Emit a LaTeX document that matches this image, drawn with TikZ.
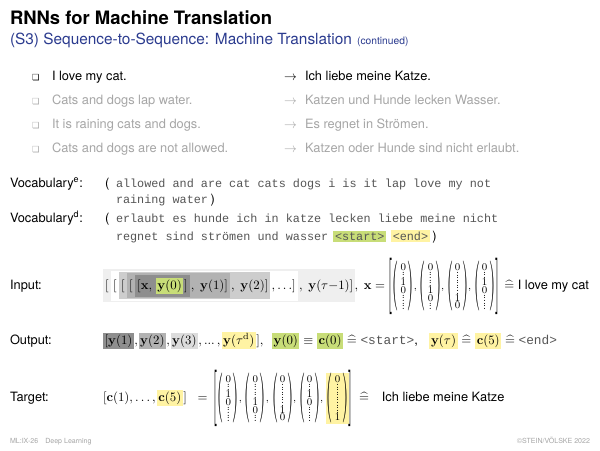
\documentclass[tikz,border=0pt]{standalone}
\usepackage[no-math]{fontspec}
\setmainfont{TeX Gyre Heros}
\setmonofont{Liberation Mono}
\newfontfamily\dingfont{DejaVu Sans}
\usepackage{xcolor}
\usepackage{graphicx}
\usetikzlibrary{positioning, backgrounds, fit}

\definecolor{subblue}{HTML}{2B3B8F}
\definecolor{fadegray}{HTML}{A6A6A6}
\definecolor{ttgray}{HTML}{555555}
\definecolor{hlgreen}{HTML}{C8DD78}
\definecolor{hlyellow}{HTML}{FFF3A3}
\definecolor{lvA}{HTML}{EFEFEF}
\definecolor{lvC}{HTML}{CDCDCD}
\definecolor{lvD}{HTML}{B2B2B2}
\definecolor{lvE}{HTML}{8E8E8E}
\definecolor{lvF}{HTML}{DCDCDC}

% one-hot vectors
\newcommand{\vd}{\lower0.4pt\vbox{\baselineskip=2pt\lineskiplimit=-5pt\hbox{$.$}\hbox{$.$}\hbox{$.$}}}
\newcommand{\vlp}{\mathopen{\vcenter{\hbox{\normalsize\scalebox{1.2}[3.9]{$($}}}}}
\newcommand{\vrp}{\mathclose{\vcenter{\hbox{\normalsize\scalebox{1.2}[3.9]{$)$}}}}}
\newcommand{\vlb}{\mathopen{\vcenter{\hbox{\normalsize\scalebox{1.1}[4.4]{$[$}}}}}
\newcommand{\vrb}{\mathclose{\vcenter{\hbox{\normalsize\scalebox{1.1}[4.4]{$]$}}}}}
\newcommand{\ohv}[1]{\vlp\,\vcenter{\baselineskip=6pt\lineskiplimit=-10pt\halign{\hfil$##$\hfil\cr#1\crcr}}\,\vrp}
\newcommand{\corr}{\mathrel{\widehat{=}}}

\begin{document}
\begin{tikzpicture}[
	  x=0.78pt, y=-0.78pt,
	  font=\fontsize{10}{12}\selectfont,
	  tok/.style={inner sep=0pt, outer sep=0pt},
	  lbl/.style={tok, anchor=base west},
	  hlg/.style={tok, fill=hlgreen, inner sep=1.2pt},
	  hly/.style={tok, fill=hlyellow, inner sep=1.2pt},
	  lvl/.style={inner sep=0pt, outer sep=0pt},
	  faded/.style={text=fadegray},
	  bul/.style={lbl, font=\dingfont\fontsize{6.5}{7}\selectfont},
	  vocab/.style={lbl, text=ttgray, font=\ttfamily\fontsize{9.2}{11}\selectfont},
	  vec/.style={tok, font=\footnotesize},
	  foot/.style={tok, text=fadegray, font=\fontsize{5.5}{6}\selectfont}
	]

	\begin{scope}[on background layer]
	\fill[white] (0,0) rectangle (600,450);
	\end{scope}
	\useasboundingbox (0,0) rectangle (600,450);

	% title
	\node[lbl, font=\bfseries\fontsize{14.4}{16}\selectfont] (title) at (10,24.5) {RNNs for Machine Translation};
	\node[lbl, text=subblue, font=\fontsize{12}{14}\selectfont] (subtitle) at (10,44.5) {(S3) Sequence-to-Sequence: Machine Translation};
	\node[tok, base right=4pt of subtitle, text=subblue, font=\fontsize{8}{9}\selectfont] (cont) {(continued)};

	% example sentences
	\node[bul] (bull1) at (32,80) {❏};
	\node[lbl] (en1) at (52,80) {I love my cat.};
	\node[lbl] (ar1) at (284,80) {$\rightarrow$};
	\node[lbl] (de1) at (305,80) {Ich liebe meine Katze.};

	\node[bul, faded] (bull2) at (32,104) {❏};
	\node[lbl, faded] (en2) at (52,104) {Cats and dogs lap water.};
	\node[lbl, faded] (ar2) at (284,104) {$\rightarrow$};
	\node[lbl, faded] (de2) at (305,104) {Katzen und Hunde lecken Wasser.};

	\node[bul, faded] (bull3) at (32,128) {❏};
	\node[lbl, faded] (en3) at (52,128) {It is raining cats and dogs.};
	\node[lbl, faded] (ar3) at (284,128) {$\rightarrow$};
	\node[lbl, faded] (de3) at (305,128) {Es regnet in Strömen.};

	\node[bul, faded] (bull4) at (32,152) {❏};
	\node[lbl, faded] (en4) at (52,152) {Cats and dogs are not allowed.};
	\node[lbl, faded] (ar4) at (284,152) {$\rightarrow$};
	\node[lbl, faded] (de4) at (305,152) {Katzen oder Hunde sind nicht erlaubt.};

	% vocabularies
	\node[lbl] (vocE) at (10,187) {Vocabulary\textsuperscript{e}:};
	\node[lbl] (vocEo) at (105,187) {(};
	\node[vocab] (vocE1) at (116,187) {allowed and are cat cats dogs i is it lap love my not};
	\node[vocab] (vocE2) at (116,203) {raining water};
	\node[tok, base right=2pt of vocE2] (vocEc) {)};

	\node[lbl] (vocD) at (10,222) {Vocabulary\textsuperscript{d}:};
	\node[lbl] (vocDo) at (105,222) {(};
	\node[vocab] (vocD1) at (116,222) {erlaubt es hunde ich in katze lecken liebe meine nicht};
	\node[vocab] (vocD2) at (116,240) {regnet sind strömen und wasser};
	\node[vocab, hlg, anchor=base west, base right=4pt of vocD2] (vStart) {<start>};
	\node[vocab, hly, anchor=base west, base right=4pt of vStart] (vEnd) {<end>};
	\node[tok, base right=2pt of vEnd] (vocDc) {)};

	% input
	\node[lbl] (inp) at (10,289) {Input:};
	\node[lbl] (inB1) at (105,289) {$[$};
	\node[tok, base right=3.5pt of inB1] (inB2) {$[$};
	\node[tok, base right=3.5pt of inB2] (inB3) {$[$};
	\node[tok, base right=3.5pt of inB3] (inB4) {$[$};
	\node[tok, base right=3.5pt of inB4] (inB5) {$[\mathbf{x},$};
	\node[hlg, base right=3pt of inB5] (inY0) {$\mathbf{y}(0)$};
	\node[tok, base right=0.5pt of inY0] (inC5) {$]$};
	\node[tok, base right=2.5pt of inC5] (inC4) {$,\ \mathbf{y}(1)]$};
	\node[tok, base right=2.5pt of inC4] (inC3) {$,\ \mathbf{y}(2)]$};
	\node[tok, base right=2.5pt of inC3] (inC2) {$,\ldots]$};
	\node[tok, base right=2.5pt of inC2] (inC1) {$,\ \mathbf{y}(\tau{-}1)]$};
	\node[tok, base right=1pt of inC1] (inX) {$,\ \mathbf{x} =$};
	\node[vec, base right=3pt of inX] (inMat) {$\vlb\ohv{0\cr\vd\cr1\cr0\cr\vd\cr\vd}{,}\;\ohv{0\cr\vd\cr\vd\cr1\cr0\cr\vd}{,}\;\ohv{0\cr\vd\cr\vd\cr\vd\cr1\cr0}{,}\;\ohv{0\cr\vd\cr1\cr0\cr\vd\cr\vd}\vrb$};
	\node[tok, base right=4pt of inMat] (inTxt) {$\corr$\ I love my cat};

	\node[lvl, fit=(inB5)(inY0)(inC5), inner xsep=1.5pt, inner ysep=2.5pt] (lv5) {};
	\node[lvl, fit=(inB4)(lv5)(inC4), inner xsep=1.5pt, inner ysep=1.2pt] (lv4) {};
	\node[lvl, fit=(inB3)(lv4)(inC3), inner xsep=1.5pt, inner ysep=0.6pt] (lv3) {};
	\node[lvl, fit=(inB2)(lv3)(inC2), inner xsep=1.5pt, inner ysep=1.2pt] (lv2) {};
	\node[lvl, fit=(inB1)(lv2)(inC1), inner xsep=1.5pt, inner ysep=1.2pt] (lv1) {};
	\begin{scope}[on background layer]
	\fill[lvA] (lv1.south west) rectangle (lv1.north east);
	\fill[white] (lv2.south west) rectangle (lv2.north east);
	\fill[lvC] (lv3.south west) rectangle (lv3.north east);
	\fill[lvD] (lv4.south west) rectangle (lv4.north east);
	\fill[lvE] (lv5.south west) rectangle (lv5.north east);
	\end{scope}

	% output
	\node[lbl] (outp) at (10,344) {Output:};
	\node[tok, fill=lvE, inner sep=1.2pt, anchor=base west] (oY1) at (103,344) {$[\mathbf{y}(1)$};
	\node[tok, base right=0.3pt of oY1] (oK1) {$,$};
	\node[tok, fill=lvD, inner sep=1.2pt, base right=0.5pt of oK1] (oY2) {$\mathbf{y}(2)$};
	\node[tok, base right=0.3pt of oY2] (oK2) {$,$};
	\node[tok, fill=lvF, inner sep=1.2pt, base right=0.5pt of oK2] (oY3) {$\mathbf{y}(3)$};
	\node[tok, base right=0.3pt of oY3] (oK3) {${,}\,{\ldotp}{\ldotp}{\ldotp}\,{,}$};
	\node[hly, base right=0.8pt of oK3] (oYd) {$\mathbf{y}(\tau^{\mathrm{d}})$};
	\node[tok, base right=0.3pt of oYd] (oK4) {$],$};
	\node[hlg, anchor=base west] (oY0) at (272,344) {$\mathbf{y}(0)$};
	\node[tok, base right=3pt of oY0] (oEq) {$\equiv$};
	\node[hlg, base right=3pt of oEq] (oC0) {$\mathbf{c}(0)$};
	\node[tok, base right=3pt of oC0] (oSt) {$\corr$ {\color{ttgray}\texttt{<start>}},};
	\node[hly, base right=9pt of oSt] (oYt) {$\mathbf{y}(\tau)$};
	\node[tok, base right=3pt of oYt] (oEq2) {$\corr$};
	\node[hly, base right=3pt of oEq2] (oC5) {$\mathbf{c}(5)$};
	\node[tok, base right=3pt of oC5] (oEn) {$\corr$ {\color{ttgray}\texttt{<end>}}};

	% target
	\node[lbl] (tgt) at (10,401) {Target:};
	\node[lbl] (tC) at (103,401) {$[\mathbf{c}(1),\ldots,$};
	\node[hly, base right=0.8pt of tC] (tC5) {$\mathbf{c}(5)$};
	\node[tok, base right=0.3pt of tC5] (tCl) {$]\;\;=$};
	\node[vec, base right=5pt of tCl] (tMat) {$\setlength{\fboxsep}{0.6pt}\vlb\ohv{0\cr\vd\cr1\cr0\cr\vd\cr\vd}{,}\;\ohv{0\cr\vd\cr\vd\cr1\cr0\cr\vd}{,}\;\ohv{0\cr\vd\cr\vd\cr\vd\cr1\cr0}{,}\;\ohv{0\cr\vd\cr1\cr0\cr\vd\cr\vd}{,}\;\colorbox{hlyellow}{$\ohv{0\cr\vd\cr\vd\cr\vd\cr\vd\cr1}$}\vrb$};
	\node[tok, base right=5pt of tMat] (tTxt) {$\corr$\quad Ich liebe meine Katze};

	% footer
	\node[foot, anchor=base west] (footL) at (10,443) {ML:IX-26\quad Deep Learning};
	\node[foot, anchor=base east] (footR) at (590,443) {©STEIN/VÖLSKE 2022};

\end{tikzpicture}
\end{document}
